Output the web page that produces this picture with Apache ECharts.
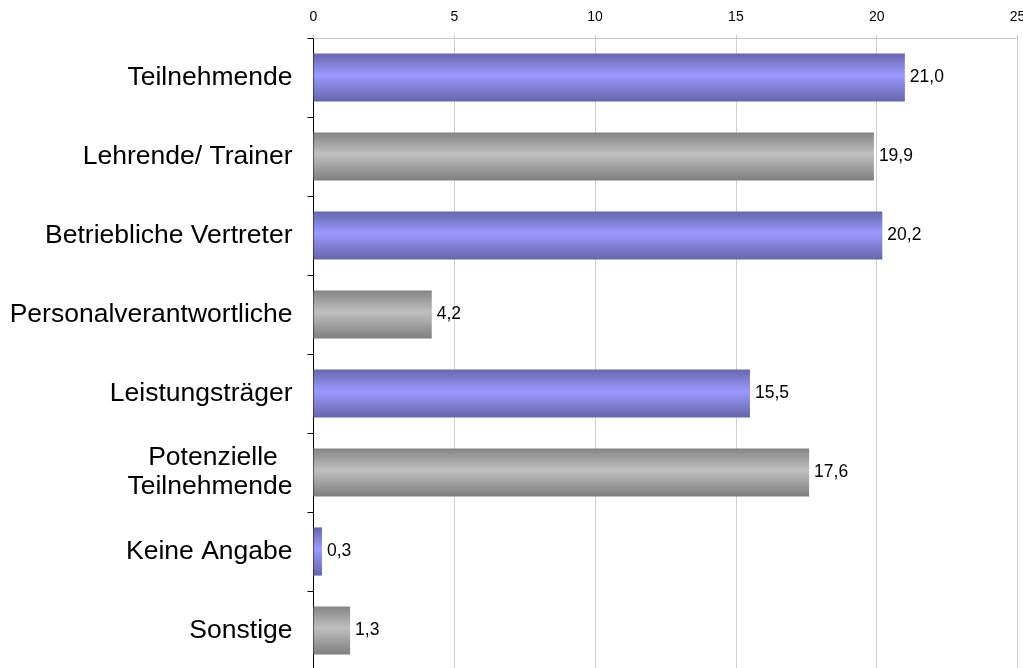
<!DOCTYPE html>
<html>
<head>
<meta charset="utf-8">
<script src="https://cdn.jsdelivr.net/npm/echarts@6/dist/echarts.min.js"></script>
<style>
	html, body { margin: 0; padding: 0; background: #fff; }
	#chart { width: 1023px; height: 668px; }
</style>
</head>
<body>
<div id="chart"></div>
<script>
const categories = [
	"Teilnehmende",
	"Lehrende/ Trainer",
	"Betriebliche Vertreter",
	"Personalverantwortliche",
	"Leistungsträger",
	"Potenzielle  \nTeilnehmende",
	"Keine Angabe",
	"Sonstige"
]
const values = [21.0, 19.9, 20.2, 4.2, 15.5, 17.6, 0.3, 1.3]
// purple / grey alternating
const barKinds = ["blue", "grey", "blue", "grey", "blue", "grey", "blue", "grey"]

function grad(kind) {
	const c = kind === "blue"
		? ["#6767ad", "#9a9aff", "#6565aa"]
		: ["#848484", "#c0c0c0", "#7e7e7e"]
	return new echarts.graphic.LinearGradient(0, 0, 0, 1, [
		{ offset: 0, color: c[0] },
		{ offset: 0.45, color: c[1] },
		{ offset: 1, color: c[2] }
	])
}

const chart = echarts.init(document.getElementById("chart"))
chart.setOption({
	backgroundColor: "#fff",
	animation: false,
	textStyle: { fontFamily: "Liberation Sans, Arial, sans-serif" },
	grid: {
		left: 313.5,
		right: 5.5,
		top: 38,
		height: 632,
		containLabel: false,
		outerBoundsMode: "none"
	},
	xAxis: {
		type: "value",
		position: "top",
		min: 0,
		max: 25,
		interval: 5,
		axisLine: { show: true, lineStyle: { color: "#c8c8c8" } },
		axisTick: { show: true, length: 3, lineStyle: { color: "#c8c8c8" } },
		axisLabel: { color: "#000", fontSize: 14, margin: 14 },
		splitLine: { show: true, lineStyle: { color: "#d0d0d0", width: 1 } }
	},
	yAxis: {
		type: "category",
		inverse: true,
		data: categories,
		axisLine: { show: true, lineStyle: { color: "#000", width: 1 } },
		axisTick: { show: true, inside: false, length: 6, lineStyle: { color: "#000" } },
		axisLabel: { color: "#000", fontSize: 26.5, margin: 21, lineHeight: 29 }
	},
	series: [
		{
			type: "bar",
			barCategoryGap: "39%",
			data: values.map((v, i) => ({
				value: v,
				itemStyle: { color: grad(barKinds[i]) }
			})),
			label: {
				show: true,
				position: "right",
				distance: 5,
				color: "#000",
				fontSize: 17.5,
				formatter: p => p.value.toFixed(1).replace(".", ",")
			}
		}
	]
})
</script>
</body>
</html>
